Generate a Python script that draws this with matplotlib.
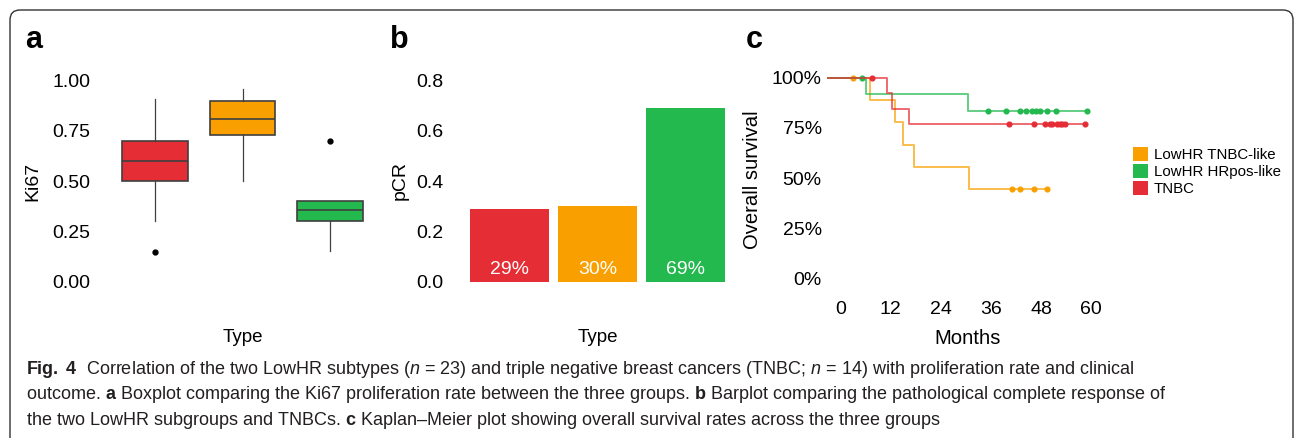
import numpy as np
import matplotlib.pyplot as plt
import matplotlib.transforms as mtransforms
from matplotlib.patches import FancyBboxPatch, Patch

plt.rcParams['font.family'] = ['Liberation Sans', 'DejaVu Sans']
plt.rcParams['mathtext.fontset'] = 'custom'
plt.rcParams['mathtext.rm'] = 'Liberation Sans'
plt.rcParams['mathtext.bf'] = 'Liberation Sans:bold'
plt.rcParams['mathtext.it'] = 'Liberation Sans:italic'

# ---- data ----
types = ["TNBC", "LowHR TNBC-like", "LowHR HRpos-like"]
colors = ["#E52D35", "#F99F00", "#23B94F"]

# a) Ki67 boxplot statistics
ki67_whislo = [0.30, 0.50, 0.155]
ki67_q1 = [0.50, 0.73, 0.30]
ki67_med = [0.60, 0.805, 0.355]
ki67_q3 = [0.70, 0.895, 0.40]
ki67_whishi = [0.905, 0.955, 0.40]
ki67_fliers = [[0.15], [], [0.70]]

# b) pCR rate
pcr = [0.29, 0.30, 0.69]

# c) Kaplan-Meier (months)
km_start = -2.9
tnbc_events = [11.2, 12.3, 16.4]
tnbc_surv = [0.923, 0.846, 0.769]
tnbc_cens = [7.6, 40.4, 46.4, 48.9, 50.1, 50.5, 51.7, 52.4, 52.9, 53.7, 58.6]
tnbclike_events = [7.0, 13.1, 15.0, 17.6, 30.7]
tnbclike_surv = [0.889, 0.778, 0.667, 0.556, 0.444]
tnbclike_cens = [2.9, 41.0, 42.9, 46.3, 49.3]
hrpos_events = [6.2, 30.4]
hrpos_surv = [0.917, 0.833]
hrpos_cens = [5.2, 35.3, 39.7, 42.9, 44.3, 45.7, 46.7, 47.7, 49.3, 51.5, 59.0]

month_ticks = [0, 12, 24, 36, 48, 60]

W, H = 1295, 438


def px_rect(left, top, right, bottom):
    return [left / W, 1 - bottom / H, (right - left) / W, (bottom - top) / H]


def ftext(x, y, s, **kw):
    return fig.text(x / W, 1 - y / H, s, **kw)


fig = plt.figure(figsize=(W / 100, H / 100), dpi=100)

# outer rounded frame
frame = FancyBboxPatch((0.10, -0.3), 12.83, 4.58, boxstyle="round,pad=0,rounding_size=0.1",
                       transform=fig.dpi_scale_trans, facecolor="none", edgecolor="#333333",
                       linewidth=1.0)
fig.patches.append(frame)

# ---------------- a ----------------
ax_a = fig.add_axes(px_rect(102, 70, 383, 292))
stats = []
for i in range(3):
    stats.append(dict(whislo=ki67_whislo[i], q1=ki67_q1[i], med=ki67_med[i], q3=ki67_q3[i],
                      whishi=ki67_whishi[i], fliers=ki67_fliers[i]))
bp = ax_a.bxp(stats, positions=[1, 2, 3], widths=0.75, patch_artist=True, showcaps=False,
              boxprops=dict(edgecolor="#404040", linewidth=1.2),
              medianprops=dict(color="#404040", linewidth=1.2),
              whiskerprops=dict(color="#404040", linewidth=0.9),
              flierprops=dict(marker="o", markerfacecolor="black", markeredgecolor="black",
                              markersize=3.5))
for patch, c in zip(bp["boxes"], colors):
    patch.set_facecolor(c)
ax_a.set_xlim(0.4, 3.6)
ax_a.set_ylim(-0.05, 1.05)
ax_a.set_xticks([])
ax_a.set_yticks([0, 0.25, 0.5, 0.75, 1.0])
ax_a.set_yticklabels(["0.00", "0.25", "0.50", "0.75", "1.00"])

# ---------------- b ----------------
ax_b = fig.add_axes(px_rect(456.7, 70, 738.3, 292))
x = np.arange(1, 4)
ax_b.bar(x, pcr, width=0.9, color=colors)
for xi, v in zip(x, pcr):
    ax_b.text(xi, 0.05, f"{round(v * 100)}%", color="white", ha="center", va="center", fontsize=14)
ax_b.set_xlim(0.4, 3.6)
ax_b.set_ylim(-0.04, 0.84)
ax_b.set_xticks([])
ax_b.set_yticks([0, 0.2, 0.4, 0.6, 0.8])
ax_b.set_yticklabels(["0.0", "0.2", "0.4", "0.6", "0.8"])

# ---------------- c ----------------
ax_c = fig.add_axes(px_rect(826.3, 67.6, 1109.7, 288.7))
groups = [
    (tnbclike_events, tnbclike_surv, tnbclike_cens, colors[1]),
    (hrpos_events, hrpos_surv, hrpos_cens, colors[2]),
    (tnbc_events, tnbc_surv, tnbc_cens, colors[0]),
]
for ev, sv, cens, c in groups:
    end = max(cens)
    tt = [km_start] + ev + [end]
    ss = [1.0] + sv + [sv[-1]]
    ax_c.step(tt, ss, where="post", color=c, alpha=0.7, linewidth=1.4)
    idx = np.searchsorted(ev, cens, side="right")
    levels = np.array([1.0] + sv)[idx]
    ax_c.plot(cens, levels, "o", color=c, markersize=3.4, linestyle="none")
ax_c.set_xlim(-3.4, 64.4)
ax_c.set_ylim(-0.05, 1.05)
ax_c.set_xticks(month_ticks)
ax_c.set_yticks([0, 0.25, 0.5, 0.75, 1.0])
ax_c.set_yticklabels(["0%", "25%", "50%", "75%", "100%"])
shift = mtransforms.ScaledTranslation(0, -3.5 / 100, fig.dpi_scale_trans)
for lab in ax_c.get_yticklabels():
    lab.set_transform(lab.get_transform() + shift)

for ax in (ax_a, ax_b, ax_c):
    for sp in ax.spines.values():
        sp.set_visible(False)
    ax.tick_params(length=0, labelsize=14, colors="black")
ax_a.tick_params(axis="y", pad=8.5)
ax_b.tick_params(axis="y", pad=9.5)
ax_c.tick_params(axis="y", pad=3.3)
ax_c.tick_params(axis="x", pad=8.5)

handles = [Patch(facecolor=colors[1], label=types[1]),
           Patch(facecolor=colors[2], label=types[2]),
           Patch(facecolor=colors[0], label=types[0])]
fig.legend(handles=handles, loc="upper left", bbox_to_anchor=(1132.7 / W, 1 - 147.3 / H),
           frameon=False, fontsize=10.8, handlelength=1.05, handleheight=1.05,
           handletextpad=0.35, labelspacing=0.12, borderpad=0, borderaxespad=0)

# axis titles and panel letters
ftext(243, 338, "Type", ha="center", va="center", fontsize=13.5)
ftext(597.5, 338, "Type", ha="center", va="center", fontsize=13.5)
ftext(968, 339, "Months", ha="center", va="center", fontsize=14.6)
ftext(33, 181, "Ki67", ha="center", va="center", rotation=90, fontsize=14)
ftext(400.5, 180, "pCR", ha="center", va="center", rotation=90, fontsize=14)
ftext(752, 180, "Overall survival", ha="center", va="center", rotation=90, fontsize=14.6)
ftext(25, 48, "a", fontsize=22, fontweight="bold", va="baseline")
ftext(390, 48, "b", fontsize=22, fontweight="bold", va="baseline")
ftext(746, 48, "c", fontsize=22, fontweight="bold", va="baseline")

# caption
cap = [
    r"$\mathbf{Fig.\ 4}$  Correlation of the two LowHR subtypes ($\mathit{n}$ = 23) and triple negative "
    r"breast cancers (TNBC; $\mathit{n}$ = 14) with proliferation rate and clinical",
    r"outcome. $\mathbf{a}$ Boxplot comparing the Ki67 proliferation rate between the three groups. "
    r"$\mathbf{b}$ Barplot comparing the pathological complete response of",
    r"the two LowHR subgroups and TNBCs. $\mathbf{c}$ Kaplan–Meier plot showing overall survival "
    r"rates across the three groups",
]
for i, line in enumerate(cap):
    ftext(26, 373.5 + 25.7 * i, line, fontsize=13, va="baseline", color="#231f20")

fig.savefig("out.png", dpi=100)
